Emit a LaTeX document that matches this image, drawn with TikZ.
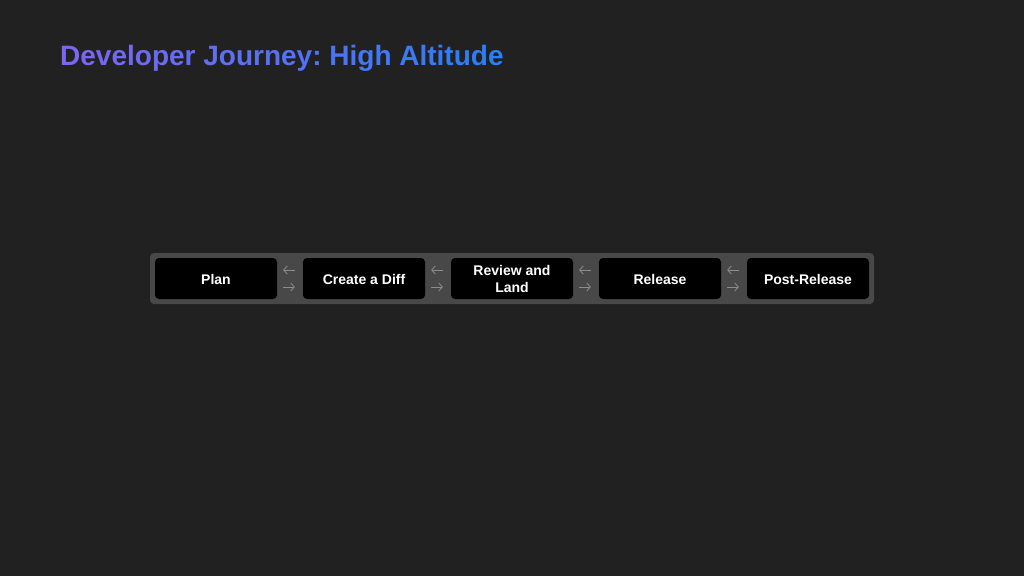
\documentclass[tikz,border=0pt]{standalone}
\usepackage{fontspec}
\setmainfont{Liberation Sans}
\usetikzlibrary{arrows.meta}
\definecolor{bg}{HTML}{212121}
\definecolor{panel}{HTML}{484848}
\definecolor{tA}{HTML}{7A66F0}
\definecolor{tB}{HTML}{2A7FF5}
\definecolor{arrgray}{HTML}{8C8C8C}
\newcommand{\gc}[2]{\textcolor{tA!#1!tB}{#2}}
\newcommand{\lowr}[1]{\raisebox{-1pt}[\height][\depth]{#1}}
\begin{document}
\frenchspacing
\begin{tikzpicture}[x=1pt,y=-1pt,
  stage/.style={fill=black, rounded corners=4pt, minimum width=122pt, minimum height=41pt,
    inner sep=0pt, text=white, align=center,
    font=\fontsize{14}{17}\selectfont\bfseries},
  panelbox/.style={fill=panel, rounded corners=4pt, minimum width=724pt, minimum height=51pt, inner sep=0pt},
  arr/.style={draw=arrgray, line width=0.8pt, -{Straight Barb[length=3.5pt,width=8pt]}},
  title/.style={anchor=base west, inner sep=0pt, font=\fontsize{28}{32}\selectfont\bfseries}]
\fill[bg] (0,0) rectangle (1024,576);
\useasboundingbox (0,0) rectangle (1024,576);
\node[title] (title) at (60,65) {\gc{100}{D}\gc{97}{e}\gc{94}{v}\gc{90}{e}\gc{87}{l}\gc{84}{o}\gc{81}{p}\gc{77}{e}\gc{74}{r} \gc{68}{J}\gc{65}{o}\gc{61}{u}\gc{58}{r}\gc{55}{n}\gc{52}{e}\gc{48}{y}\gc{45}{:} \gc{39}{H}\gc{35}{i}\gc{32}{g}\gc{29}{h} \gc{23}{A}\gc{19}{l}\gc{16}{t}\gc{13}{i}\gc{10}{t}\gc{6}{u}\gc{3}{d}\gc{0}{e}};
\node[panelbox] (panel) at (512,278.5) {};
\node[stage] (s1) at (216,278.5) {\lowr{Plan}};
\node[stage] (s2) at (364,278.5) {\lowr{Create a Diff}};
\node[stage] (s3) at (512,278.5) {Review and\\Land};
\node[stage] (s4) at (660,278.5) {\lowr{Release}};
\node[stage] (s5) at (808,278.5) {\lowr{Post-Release}};
\foreach \a/\b in {s1/s2,s2/s3,s3/s4,s4/s5}{
  \draw[arr] ([xshift=-8pt,yshift=8.5pt]\b.west) -- ([xshift=6pt,yshift=8.5pt]\a.east);
  \draw[arr] ([xshift=6pt,yshift=-8.5pt]\a.east) -- ([xshift=-8pt,yshift=-8.5pt]\b.west);
}
\end{tikzpicture}
\end{document}
